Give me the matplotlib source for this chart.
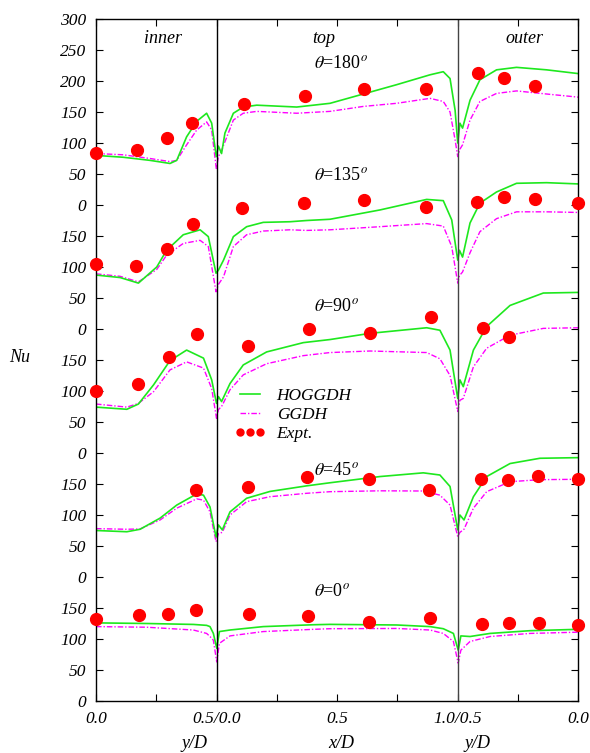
import numpy as np
import matplotlib
matplotlib.use('Agg')
import matplotlib.pyplot as plt
from matplotlib.lines import Line2D

plt.rcParams['font.family'] = 'Liberation Serif'
plt.rcParams['mathtext.fontset'] = 'stix'

# s = running coordinate along the wall: inner y/D (0-0.5), top x/D (0.5-1.5), outer y/D (1.5-2.0)
# each angle is drawn with its own vertical offset
angles = ['0', '45', '90', '135', '180']
offsets = [0, 200, 400, 600, 800]

# theta = 0
s_0 = [0.0, 0.210, 0.404, 0.459, 0.473, 0.487, 0.501, 0.512, 0.556, 0.694, 0.902, 0.971,
       1.248, 1.386, 1.441, 1.483, 1.503, 1.514, 1.552, 1.635, 1.801, 2.0]
hog_0 = [126, 125, 123.5, 122, 120, 109, 85, 112, 114.5, 120, 123, 123.6,
         122.6, 120, 116.6, 109, 82, 105, 104, 109, 113.4, 115.6]
ggdh_0 = [120, 119, 114.5, 109, 104, 98, 63, 93, 105, 112, 115.6, 116.6,
          117, 114.5, 109, 96, 61, 82, 96, 104, 109, 111]
xe_0 = [0.0, 0.178, 0.299, 0.415, 0.635, 0.880, 1.133, 1.386, 1.602, 1.714, 1.838, 2.0]
expt_0 = [132, 138.7, 140, 146.8, 139.8, 137, 127, 133.4, 123.7, 126.3, 126.3, 122.6]

# theta = 45
s_45 = [0.0, 0.128, 0.183, 0.266, 0.335, 0.418, 0.446, 0.473, 0.498, 0.508, 0.524, 0.556,
        0.625, 0.722, 0.874, 0.971, 1.178, 1.358, 1.427, 1.469, 1.501, 1.510, 1.527,
        1.566, 1.621, 1.718, 1.842, 2.0]
hog_45 = [75, 73, 77, 95, 116, 134, 132, 113, 64.5, 84, 76, 105,
          127, 138, 147, 152, 162, 168, 164.5, 146, 76, 100, 92,
          129.5, 162, 183, 191.5, 192.5]
ggdh_45 = [78, 77, 77.5, 92, 111, 126, 124, 105, 57, 70, 72, 100,
           121.5, 129.5, 135, 137.6, 139, 138.7, 132, 116, 65, 72, 77,
           111, 137.6, 153.7, 157, 157.6]
xe_45 = [0.415, 0.631, 0.876, 1.133, 1.382, 1.598, 1.710, 1.834, 2.0]
expt_45 = [140, 145, 162, 158, 140.5, 158, 156.5, 163.4, 157.6]

# theta = 90
s_90 = [0.0, 0.128, 0.176, 0.239, 0.307, 0.376, 0.446, 0.480, 0.500, 0.508, 0.521, 0.556,
        0.611, 0.708, 0.860, 0.971, 1.137, 1.372, 1.427, 1.469, 1.501, 1.510, 1.524,
        1.566, 1.621, 1.718, 1.856, 2.0]
hog_90 = [74, 70.5, 79, 110, 149, 166, 153, 118, 80, 91, 83, 112,
          142, 163, 178, 183, 193, 202, 198, 166, 88, 118, 107,
          166, 204, 238, 258, 259]
ggdh_90 = [79, 74, 80, 99, 134, 147, 137, 104, 56, 70, 75, 102,
           126, 144, 157, 162, 164.5, 162, 152, 125, 67, 85, 88,
           139, 169, 190, 201, 202]
xe_90 = [0.0, 0.174, 0.303, 0.419, 0.631, 0.884, 1.137, 1.390, 1.606, 1.714]
expt_90 = [100.5, 111, 155, 192, 173, 199.5, 193, 219, 201, 187.6]

# theta = 135
s_135 = [0.0, 0.100, 0.176, 0.252, 0.293, 0.362, 0.432, 0.466, 0.498, 0.508, 0.529, 0.570,
         0.625, 0.694, 0.805, 0.874, 0.971, 1.178, 1.372, 1.441, 1.476, 1.501, 1.508,
         1.521, 1.552, 1.593, 1.662, 1.745, 1.870, 2.0]
hog_135 = [87, 83, 74, 100, 127, 152, 160, 149, 90, 95, 111, 149,
           165, 172, 173, 175, 177, 192, 209, 207, 176, 111, 127,
           116, 171, 203, 221, 235, 236, 234]
ggdh_135 = [89, 85, 76, 96, 119, 138, 143, 133, 60, 72, 84, 133,
            152, 158, 160, 159, 160, 165, 170, 166, 133, 74, 86,
            92, 123, 157, 178, 189, 189, 188]
xe_135 = [0.0, 0.166, 0.295, 0.402, 0.606, 0.863, 1.112, 1.369, 1.581, 1.693, 1.822, 2.0]
expt_135 = [104.5, 102, 129, 169.5, 195, 203, 208, 196, 205, 213, 209, 203]

# theta = 180
s_180 = [0.0, 0.113, 0.224, 0.307, 0.335, 0.376, 0.418, 0.459, 0.480, 0.499, 0.508, 0.521,
         0.535, 0.570, 0.611, 0.667, 0.833, 0.971, 1.109, 1.247, 1.386, 1.441, 1.469,
         1.490, 1.501, 1.510, 1.521, 1.552, 1.593, 1.662, 1.745, 1.870, 2.0]
hog_180 = [80, 77, 72, 67, 72, 110, 135, 148, 132, 78, 95, 83,
           116, 148, 158, 161, 158, 164, 179, 194, 210, 215, 204,
           153, 100, 132, 124, 169, 202, 218, 222, 218, 212]
ggdh_180 = [83, 81, 75, 70, 72, 97, 121, 134, 121, 59, 78, 88,
            102, 137, 148, 151, 148, 151, 159, 164, 172, 167, 150,
            105, 78, 90, 97, 137, 167, 180, 184, 179, 174]
xe_180 = [0.0, 0.171, 0.296, 0.400, 0.614, 0.867, 1.113, 1.369, 1.584, 1.693, 1.823]
expt_180 = [84.5, 89, 108.5, 133, 163, 176, 186.5, 187, 212.5, 205, 192]

panels = [
    (s_0, hog_0, ggdh_0, xe_0, expt_0),
    (s_45, hog_45, ggdh_45, xe_45, expt_45),
    (s_90, hog_90, ggdh_90, xe_90, expt_90),
    (s_135, hog_135, ggdh_135, xe_135, expt_135),
    (s_180, hog_180, ggdh_180, xe_180, expt_180),
]
label_pos = [176, 371, 637, 847, 1029]

green = '#1ee81e'
magenta = '#ff00ff'
dd = [4, 1.4, 1, 1.4]

fig = plt.figure(figsize=(5.9, 7.53), dpi=100)
ax = fig.add_axes([96 / 590, 52 / 753, 482 / 590, 682 / 753])

for (s, h, g, xe, e), off in zip(panels, offsets):
    ax.plot(s, np.array(g) + off, color=magenta, lw=1.0, dashes=dd)
    ax.plot(s, np.array(h) + off, color=green, lw=1.2)
    ax.plot(xe, np.array(e) + off, 'o', color='red', ms=8.5, clip_on=False, zorder=5)

ax.axvline(0.5, color='black', lw=1)
ax.axvline(1.5, color='#444444', lw=1)

ax.set_xlim(0, 2)
ax.set_ylim(0, 1100)

yt = np.arange(0, 1101, 50)
ax.set_yticks(yt)
ax.set_yticklabels([str(v % 200) if v < 800 else str(v - 800) for v in yt])
ax.set_xticks([0, 0.25, 0.5, 0.75, 1.0, 1.25, 1.5, 1.75, 2.0])
ax.set_xticklabels(['0.0', '', '0.5/0.0', '', '0.5', '', '1.0/0.5', '', '0.0'])
ax.tick_params(direction='in', top=True, right=True, length=5, width=0.8,
               labelsize=12.5, pad=7)
for lbl in ax.get_xticklabels() + ax.get_yticklabels():
    lbl.set_style('italic')
for sp in ax.spines.values():
    sp.set_linewidth(1.0)

tr = ax.get_xaxis_transform()
for x, t in [(0.278, 'inner'), (0.946, 'top'), (1.779, 'outer')]:
    ax.text(x, 0.972, t, transform=tr, ha='center', va='center', style='italic', fontsize=13)
for x, t in [(0.41, 'y/D'), (1.017, 'x/D'), (1.585, 'y/D')]:
    ax.text(x, -0.0616, t, transform=tr, ha='center', va='center', style='italic', fontsize=13)

for a, yv in zip(angles, label_pos):
    ax.text(0.905, yv, r'$\theta$=' + a + r'$^o$', ha='left', va='center', fontsize=13)

fig.text(20 / 590, 1 - 357 / 753, 'Nu', style='italic', fontsize=13, ha='center', va='center')

handles = [
    Line2D([], [], color=green, lw=1.2),
    Line2D([], [], color=magenta, lw=1.0, dashes=dd),
    Line2D([], [], ls='none', marker='o', color='red', ms=5),
]
ax.legend(handles, ['HOGGDH', 'GGDH', 'Expt.'], loc='upper left',
          bbox_to_anchor=(235 / 590, 1 - 388 / 753), bbox_transform=fig.transFigure,
          frameon=False, borderpad=0, borderaxespad=0, numpoints=3,
          handlelength=1.75, handletextpad=0.65, labelspacing=0.15,
          prop={'family': 'Liberation Serif', 'style': 'italic', 'size': 12.5})

fig.savefig('out.png', dpi=100)
